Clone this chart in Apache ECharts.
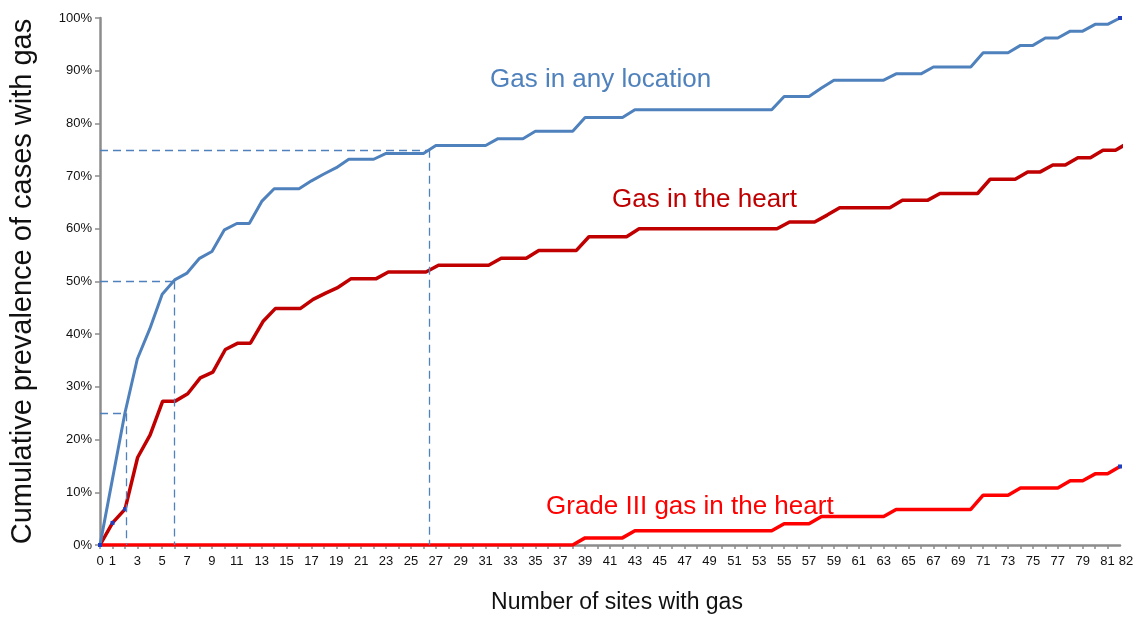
<!DOCTYPE html>
<html><head><meta charset="utf-8">
<script src="https://cdn.jsdelivr.net/npm/echarts@6/dist/echarts.min.js"></script>
<style>html,body{margin:0;padding:0;background:#fff}#c{width:1146px;height:619px}</style>
</head><body><div id="c"></div>
<script>
// number of sites with gas (0..82)
const sites = Array.from({length: 83}, (_, i) => i);
// Cumulative prevalence (%) — gas in any location
const gasAny = [0,12.5,25,35.3,41,47.6,50.3,51.6,54.4,55.7,59.8,61.0,61.0,65.2,67.6,67.6,67.6,69.1,70.4,71.6,
  73.2,73.2,73.2,74.3,74.3,74.3,74.3,75.8,75.8,75.8,75.8,75.8,77.1,77.1,77.1,78.5,78.5,78.5,78.5,81.1,
  81.1,81.1,81.1,82.6,82.6,82.6,82.6,82.6,82.6,82.6,82.6,82.6,82.6,82.6,82.6,85.1,85.1,85.1,86.7,88.2,
  88.2,88.2,88.2,88.2,89.4,89.4,89.4,90.7,90.7,90.7,90.7,93.4,93.4,93.4,94.8,94.8,96.2,96.2,97.5,97.5,
  98.8,98.8,100];
// Gas in the heart
const gasHeart = [0,4.2,6.8,16.6,20.9,27.3,27.3,28.7,31.7,32.8,37.1,38.3,38.3,42.4,44.9,44.9,44.9,46.6,47.8,48.9,
  50.5,50.5,50.5,51.8,51.8,51.8,51.8,53.1,53.1,53.1,53.1,53.1,54.4,54.4,54.4,55.9,55.9,55.9,55.9,58.5,
  58.5,58.5,58.5,60.0,60.0,60.0,60.0,60.0,60.0,60.0,60.0,60.0,60.0,60.0,60.0,61.3,61.3,61.3,62.6,64.0,
  64.0,64.0,64.0,64.0,65.4,65.4,65.4,66.7,66.7,66.7,66.7,69.4,69.4,69.4,70.8,70.8,72.1,72.1,73.5,73.5,
  74.9,74.9,76.3];
// Grade III gas in the heart
const gradeIII = [0,0,0,0,0,0,0,0,0,0,0,0,0,0,0,0,0,0,0,0,
  0,0,0,0,0,0,0,0,0,0,0,0,0,0,0,0,0,0,0,1.35,
  1.35,1.35,1.35,2.7,2.7,2.7,2.7,2.7,2.7,2.7,2.7,2.7,2.7,2.7,2.7,4.05,4.05,4.05,5.4,5.4,
  5.4,5.4,5.4,5.4,6.75,6.75,6.75,6.75,6.75,6.75,6.75,9.45,9.45,9.45,10.8,10.8,10.8,10.8,12.2,12.2,
  13.5,13.5,14.9];
// reference levels (%) and the number of sites at which "any location" reaches them
const refLevels = [25, 50, 75];
const refSites = [2.1, 6.0, 26.5];
const seriesNames = ['Gas in any location','Gas in the heart','Grade III gas in the heart'];

const BLUE = '#4f81bd', DARK = '#c00000', RED = '#ff0000', MARK = '#1f3fc0';
const FONT = 'Liberation Sans, Arial, sans-serif';
const pairs = (ys, marked) => ys.map((y, i) => {
  const p = {value: [sites[i], y]};
  if (marked.includes(i)) p.symbol = 'rect', p.symbolSize = 4, p.itemStyle = {color: MARK};
  return p;
});

const refLines = [];
refLevels.forEach((lv, k) => {
  refLines.push([{coord: [0, lv]}, {coord: [refSites[k], lv]}]);
  refLines.push([{coord: [refSites[k], lv]}, {coord: [refSites[k], 0]}]);
});

const chart = echarts.init(document.getElementById('c'), null, {renderer: 'canvas'});
chart.setOption({
  animation: false,
  textStyle: {fontFamily: FONT},
  grid: {left: 100, right: 26, top: 18, bottom: 72, containLabel: false},
  xAxis: [{
    type: 'value', min: 0, max: 82, interval: 1, position: 'bottom',
    name: 'Number of sites with gas', nameLocation: 'middle', nameGap: 46,
    nameTextStyle: {fontSize: 23, color: '#111', fontFamily: FONT, padding: [0, 0, 0, 14]},
    axisLine: {lineStyle: {color: '#8c8c8c', width: 2.5}},
    axisTick: {show: true, length: 4, lineStyle: {color: '#8c8c8c', width: 1.5}},
    axisLabel: {fontSize: 13, color: '#111', margin: 10, showMinLabel: true, showMaxLabel: false,
      formatter: v => (v === 0 || v % 2 === 1) ? String(v) : ''},
    splitLine: {show: false}
  }, {
    type: 'value', min: 0, max: 81.36, show: false
  }, {
    type: 'value', min: 0, max: 82, interval: 82, position: 'bottom',
    axisLine: {show: false}, axisTick: {show: false}, splitLine: {show: false},
    axisLabel: {fontSize: 13, color: '#111', margin: 10, showMinLabel: false, showMaxLabel: true,
      formatter: v => v === 82 ? '{r|' + v + '}' : '',
      rich: {r: {fontSize: 13, color: '#111', padding: [0, 0, 0, 12], fontFamily: FONT}}}
  }],
  yAxis: {
    type: 'value', min: 0, max: 100, interval: 10,
    name: 'Cumulative prevalence of cases with gas', nameLocation: 'middle', nameGap: 63,
    nameTextStyle: {fontSize: 29, color: '#111', fontFamily: FONT},
    axisLine: {show: true, lineStyle: {color: '#8c8c8c', width: 2.5}},
    axisTick: {show: true, length: 5, lineStyle: {color: '#8c8c8c', width: 1.5}},
    axisLabel: {fontSize: 13, color: '#111', margin: 8, formatter: v => v + '%'},
    splitLine: {show: false}
  },
  series: [
    {name: seriesNames[2], type: 'line', xAxisIndex: 0, data: pairs(gradeIII, [0, 82]),
     symbol: 'none', lineStyle: {color: RED, width: 3.5}, itemStyle: {color: RED}, z: 3},
    {name: seriesNames[1], type: 'line', xAxisIndex: 1, data: pairs(gasHeart, [1, 2]),
     symbol: 'none', lineStyle: {color: DARK, width: 3.5}, itemStyle: {color: DARK}, z: 4},
    {name: seriesNames[0], type: 'line', xAxisIndex: 0, data: pairs(gasAny, [0, 82]),
     symbol: 'none', lineStyle: {color: BLUE, width: 3}, itemStyle: {color: BLUE}, z: 5,
     markLine: {silent: true, symbol: 'none', label: {show: false},
       lineStyle: {color: BLUE, type: [8, 5], width: 1.3}, data: refLines}}
  ],
  graphic: [
    {type: 'text', left: 490, top: 67, style: {text: seriesNames[0], fontSize: 26, fill: BLUE, fontFamily: FONT}},
    {type: 'text', left: 612, top: 187, style: {text: seriesNames[1], fontSize: 26, fill: DARK, fontFamily: FONT}},
    {type: 'text', left: 546, top: 494, style: {text: seriesNames[2], fontSize: 26, fill: RED, fontFamily: FONT}}
  ]
});
</script></body></html>
